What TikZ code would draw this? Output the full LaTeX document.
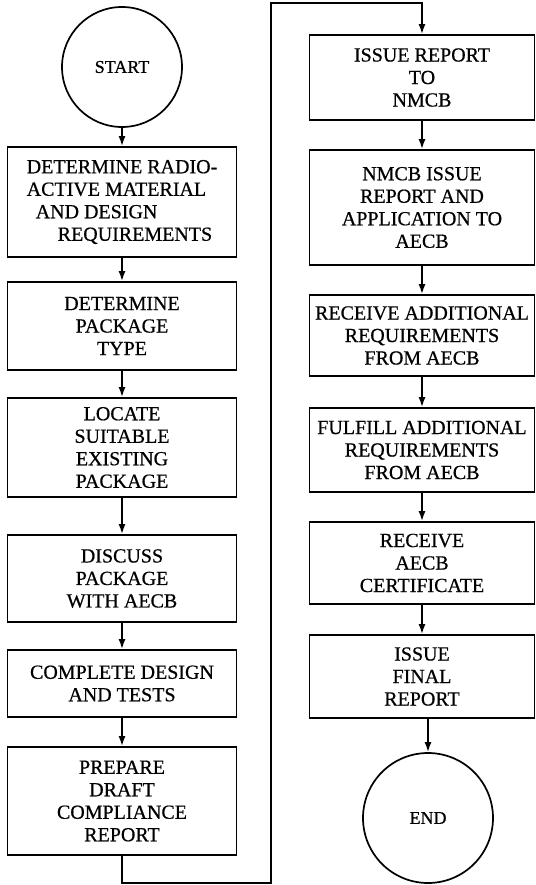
\documentclass[tikz,border=0pt]{standalone}
\usepackage{fontspec}
\setmainfont{Liberation Serif}[FakeBold=0.6]
\usetikzlibrary{arrows.meta}
\begin{document}
\begin{tikzpicture}[x=1pt,y=-1pt,
  stepbox/.style={draw, line width=1.7pt, rectangle, inner sep=0pt, align=center,
    font=\fontsize{20}{22.5}\selectfont},
  termcirc/.style={draw, line width=1.7pt, circle, inner sep=0pt,
    font=\fontsize{18}{20}\selectfont},
  flow/.style={line width=1.7pt, -{Latex[length=10pt,width=7pt]}}]
\useasboundingbox (0,0) rectangle (535,885);
% left column
\node[termcirc, minimum size=120pt] (start) at (122,67) {START};
\node[stepbox, minimum width=229pt, minimum height=110pt, align=left] (b1) at (122,202)
  {DETERMINE RADIO-\\ACTIVE MATERIAL\\\hspace*{9pt}AND DESIGN\\\hspace*{31pt}REQUIREMENTS};
\node[stepbox, minimum width=229pt, minimum height=88pt] (b2) at (122,326)
  {DETERMINE\\PACKAGE\\TYPE};
\node[stepbox, minimum width=229pt, minimum height=99pt] (b3) at (122,447.5)
  {LOCATE\\SUITABLE\\EXISTING\\PACKAGE};
\node[stepbox, minimum width=229pt, minimum height=87pt] (b4) at (122,578.5)
  {DISCUSS\\PACKAGE\\WITH AECB};
\node[stepbox, minimum width=229pt, minimum height=67pt] (b5) at (122,683.5)
  {COMPLETE DESIGN\\AND TESTS};
\node[stepbox, minimum width=229pt, minimum height=108pt] (b6) at (122,801)
  {PREPARE\\DRAFT\\COMPLIANCE\\REPORT};
% right column
\node[stepbox, minimum width=225pt, minimum height=85pt] (r1) at (422,77.5)
  {ISSUE REPORT\\TO\\NMCB};
\node[stepbox, minimum width=225pt, minimum height=115pt] (r2) at (422,207.5)
  {NMCB ISSUE\\REPORT AND\\APPLICATION TO\\AECB};
\node[stepbox, minimum width=225pt, minimum height=81pt] (r3) at (422,335.5)
  {RECEIVE ADDITIONAL\\REQUIREMENTS\\FROM AECB};
\node[stepbox, minimum width=225pt, minimum height=84pt] (r4) at (422,450)
  {FULFILL ADDITIONAL\\REQUIREMENTS\\FROM AECB};
\node[stepbox, minimum width=225pt, minimum height=82pt] (r5) at (422,563)
  {RECEIVE\\AECB\\CERTIFICATE};
\node[stepbox, minimum width=225pt, minimum height=83pt] (r6) at (422,676.5)
  {ISSUE\\FINAL\\REPORT};
\node[termcirc, minimum size=130pt] (end) at (428,818) {END};
% connectors
\draw[flow] (start.south) -- (b1.north);
\draw[flow] (b1.south) -- (b2.north);
\draw[flow] (b2.south) -- (b3.north);
\draw[flow] (b3.south) -- (b4.north);
\draw[flow] (b4.south) -- (b5.north);
\draw[flow] (b5.south) -- (b6.north);
\coordinate (c1) at (271,883);
\coordinate (c2) at (271,3);
\draw[flow] (b6.south) |- (c1) -- (c2) -| (r1.north);
\draw[flow] (r1.south) -- (r2.north);
\draw[flow] (r2.south) -- (r3.north);
\draw[flow] (r3.south) -- (r4.north);
\draw[flow] (r4.south) -- (r5.north);
\draw[flow] (r5.south) -- (r6.north);
\draw[flow] (end.north |- r6.south) -- (end.north);
\end{tikzpicture}
\end{document}
